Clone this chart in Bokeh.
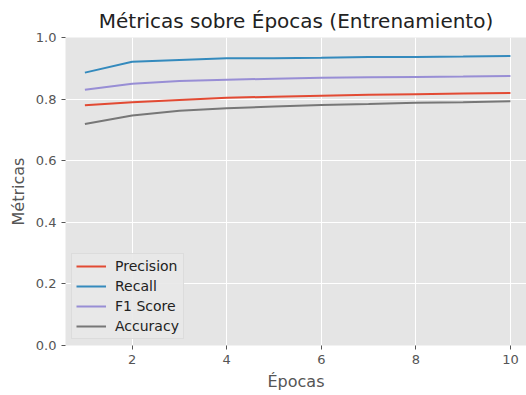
from bokeh.plotting import figure
from bokeh.models import Range1d, PrintfTickFormatter, FixedTicker, Legend, LegendItem
from bokeh.embed import file_html
from bokeh.resources import INLINE

epochs = [1, 2, 3, 4, 5, 6, 7, 8, 9, 10]
precision = [0.780, 0.790, 0.797, 0.804, 0.808, 0.811, 0.814, 0.816, 0.818, 0.820]
recall = [0.886, 0.921, 0.927, 0.933, 0.933, 0.934, 0.937, 0.937, 0.938, 0.940]
f1_score = [0.830, 0.850, 0.859, 0.863, 0.866, 0.869, 0.871, 0.872, 0.873, 0.875]
accuracy = [0.719, 0.747, 0.762, 0.770, 0.776, 0.781, 0.784, 0.788, 0.790, 0.793]
x_ticks = [2, 4, 6, 8, 10]
y_ticks = [0.0, 0.2, 0.4, 0.6, 0.8, 1.0]

series = [("Precision", precision, "#E24A33"),
          ("Recall", recall, "#348ABD"),
          ("F1 Score", f1_score, "#988ED5"),
          ("Accuracy", accuracy, "#777777")]

FONT = "DejaVu Sans"

p = figure(width=526, height=395, output_backend="svg", toolbar_location=None,
           x_range=Range1d(0.59, 10.34), y_range=Range1d(0.0, 1.0),
           min_border_left=65, min_border_right=0, min_border_top=37, min_border_bottom=50)

p.title.text = "Métricas sobre Épocas (Entrenamiento)"
p.title.align = "center"
p.title.text_font = FONT
p.title.text_font_size = "20px"
p.title.text_font_style = "normal"
p.title.text_color = "#222222"

p.background_fill_color = "#E5E5E5"
p.border_fill_color = "white"
p.outline_line_color = None

p.grid.grid_line_color = "white"
p.grid.grid_line_width = 1
p.xgrid.ticker = FixedTicker(ticks=x_ticks)
p.ygrid.ticker = FixedTicker(ticks=y_ticks)

for ax in (p.xaxis[0], p.yaxis[0]):
    ax.axis_line_color = None
    ax.major_tick_line_color = "#555555"
    ax.major_tick_out = 4
    ax.major_tick_in = 0
    ax.minor_tick_line_color = None
    ax.major_label_text_font = FONT
    ax.major_label_text_font_size = "13px"
    ax.major_label_text_color = "#555555"
    ax.axis_label_text_font = FONT
    ax.axis_label_text_font_size = "16px"
    ax.axis_label_text_font_style = "normal"
    ax.axis_label_text_color = "#555555"

p.xaxis.ticker = FixedTicker(ticks=x_ticks)
p.yaxis.ticker = FixedTicker(ticks=y_ticks)
p.yaxis.formatter = PrintfTickFormatter(format="%.1f")
p.xaxis.axis_label = "Épocas"
p.yaxis.axis_label = "Métricas"

items = []
for name, vals, color in series:
    r = p.line(epochs, vals, line_color=color, line_width=2)
    items.append(LegendItem(label=name, renderers=[r]))

legend = Legend(items=items, location="bottom_left")
legend.label_text_font = FONT
legend.label_text_font_size = "14px"
legend.label_text_color = "#222222"
legend.background_fill_color = "#E8E8E8"
legend.background_fill_alpha = 0.9
legend.border_line_color = "#D0D0D0"
legend.glyph_width = 30
legend.glyph_height = 16
legend.label_height = 16
legend.label_standoff = 9
legend.spacing = 4
legend.padding = 4
legend.margin = 6
p.add_layout(legend)

open("out.html", "w").write(file_html(p, INLINE))
